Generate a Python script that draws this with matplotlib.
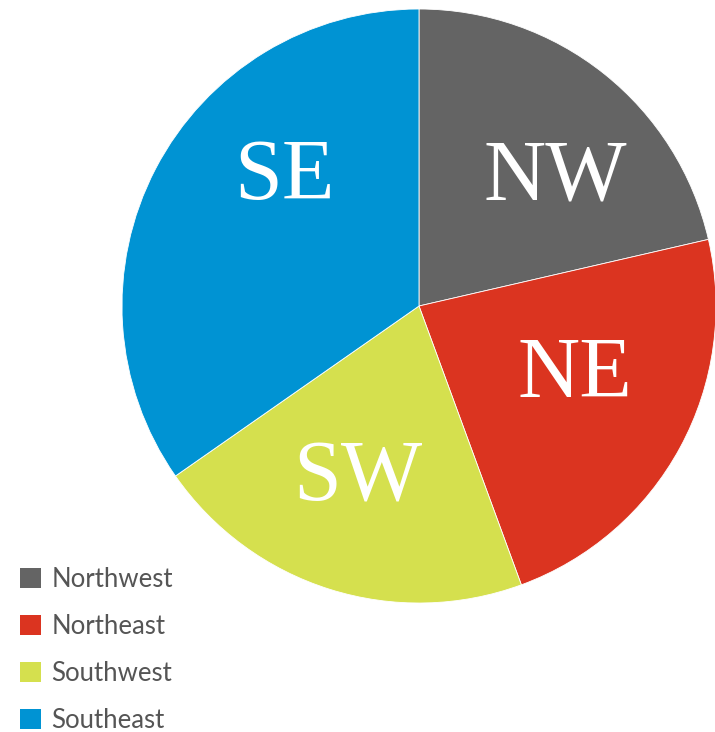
import numpy as np
import matplotlib.pyplot as plt

regions = ["Northwest", "Northeast", "Southwest", "Southeast"]
short = ["NW", "NE", "SW", "SE"]
shares = [21.4, 23.0, 20.9, 34.7]
colors = ["#646464", "#DB3420", "#D5E04E", "#0093D3"]

# label placement (radius, clockwise angle from top)
label_pos = [(0.643, 45.4), (0.568, 112.3), (0.60, 200.0), (0.64, 315.0)]

fig = plt.figure(figsize=(7.15, 7.32), dpi=100)
ax = fig.add_axes([0.1706, 0.1762, 0.8308, 0.8115])

wedges, _ = ax.pie(shares, colors=colors, startangle=90, counterclock=False,
                   wedgeprops=dict(edgecolor="white", linewidth=0.6))
ax.set_xlim(-1, 1)
ax.set_ylim(-1, 1)
ax.set_aspect("equal")

for s, (r, a) in zip(short, label_pos):
    t = np.deg2rad(a)
    ax.text(r * np.sin(t), r * np.cos(t) - 0.022, s, color="white", fontsize=62,
            family="Liberation Serif", ha="center", va="center")

leg = fig.legend(wedges, regions, loc="upper left", bbox_to_anchor=(0.028, 0.226),
                 frameon=False, borderpad=0, borderaxespad=0,
                 handlelength=0.82, handleheight=0.82,
                 handletextpad=0.4, labelspacing=0.86,
                 prop=dict(family="Lato", size=18.5))
for txt in leg.get_texts():
    txt.set_color("#555555")
for h in leg.legend_handles:
    h.set_edgecolor("none")

fig.savefig("out.png", dpi=100)
